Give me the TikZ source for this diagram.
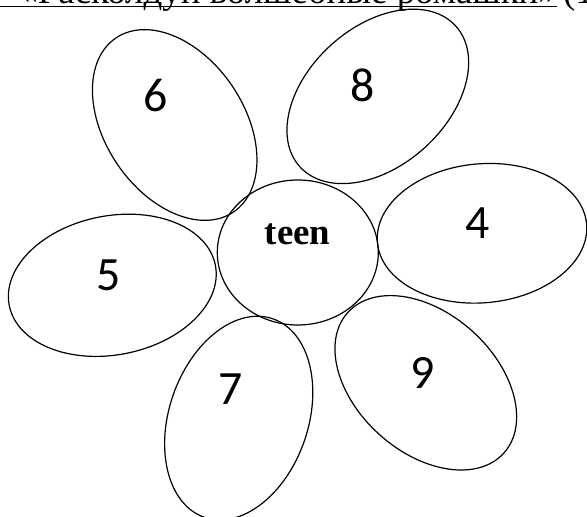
\documentclass[tikz,border=0pt]{standalone}
\usepackage{fontspec}
\setmainfont{Liberation Serif}
\newfontfamily\digitfont{Carlito}
\usetikzlibrary{shapes.geometric}
\tikzset{
  x=1bp,y=1bp,
  petal/.style={draw,ellipse,line width=1.2bp,inner sep=0pt,minimum width=210bp,minimum height=139bp},
  digit/.style={inner sep=0pt,font=\digitfont\fontsize{48}{50}\selectfont},
}
\begin{document}
\begin{tikzpicture}
\useasboundingbox (0,0) rectangle (587,517);
% title (clipped at top)
\node[anchor=base east,inner sep=0pt,font=\fontsize{37}{40}\selectfont] (title) at (557,513) {«Расколдуй волшебные ромашки»};
\node[anchor=base west,inner sep=0pt,font=\fontsize{37}{40}\selectfont] (paren) at (563,513) {(1 балл)};
\coordinate (ul0) at (0,510.5);
\coordinate (ul1) at (557,510.5);
\draw[line width=1.6bp] (ul0) -- (ul1);
% centre
\node[draw,ellipse,line width=1.2bp,inner sep=0pt,minimum width=161bp,minimum height=145bp] (c) at (297.8,264.5) {};
\node[anchor=base,inner sep=0pt,font=\bfseries\fontsize{37}{40}\selectfont] (teen) at (297.5,272) {teen};
% petals
\node[petal,rotate=-56] (p6) at (174.7,392) {};
\node[petal,rotate=42] (p8) at (377.8,420.6) {};
\node[petal,rotate=5] (p4) at (482,283.7) {};
\node[petal,rotate=11] (p5) at (112.3,231.7) {};
\node[petal,rotate=71] (p7) at (238.7,98.9) {};
\node[petal,rotate=-42] (p9) at (425.8,134.2) {};
% labels
\node[digit] (l6) at (155.7,421.7) {6};
\node[digit] (l8) at (362.5,431.7) {8};
\node[digit] (l4) at (477.9,293.7) {4};
\node[digit] (l5) at (108.6,241.7) {5};
\node[digit] (l7) at (230.8,128.3) {7};
\node[digit] (l9) at (422.2,143.7) {9};
\end{tikzpicture}
\end{document}
